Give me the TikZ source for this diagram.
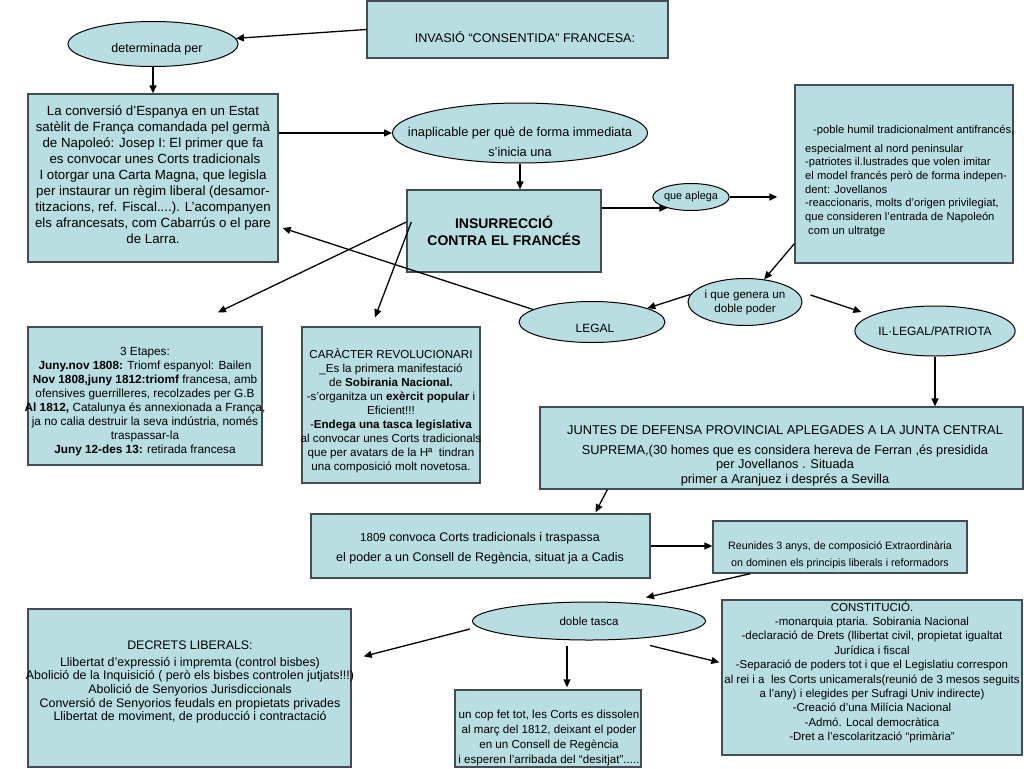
\documentclass[tikz,border=0pt]{standalone}
\usepackage{fontspec}
\setmainfont{Liberation Sans}
\usetikzlibrary{arrows.meta,shapes.geometric,calc}
\definecolor{boxfill}{RGB}{184,222,225}
\definecolor{boxline}{RGB}{66,78,84}
\begin{document}
\begin{tikzpicture}[x=1pt,y=-1pt,
  bx/.style={draw=boxline, line width=1.3pt, fill=boxfill, inner sep=0},
  ell/.style={ellipse, draw=black, line width=1pt, fill=boxfill, inner sep=0},
  txt/.style={align=center, inner sep=0, text=black},
  fs/.style 2 args={font=\fontsize{#1}{#2}\selectfont},
  arr/.style={line width=1.3pt, -{Triangle[length=8pt,width=7pt]}},
  ln/.style={line width=1.3pt}]
\fill[white] (0,0) rectangle (1024,768);
\path[use as bounding box] (0,0) rectangle (1024,768);

% ---------- boxes ----------
\node[bx, minimum width=301, minimum height=57] (inv) at (517.5,29.5) {};
\node[bx, minimum width=250, minimum height=168] (left) at (153,178) {};
\node[bx, minimum width=194, minimum height=82] (insur) at (504,231) {};
\node[bx, minimum width=218, minimum height=178] (rbox) at (904,174) {};
\node[bx, minimum width=234, minimum height=138] (etap) at (145,396) {};
\node[bx, minimum width=178, minimum height=156] (carac) at (391,405) {};
\node[bx, minimum width=483, minimum height=82] (juntes) at (781.5,448) {};
\node[bx, minimum width=339, minimum height=64] (c1809) at (480.5,546) {};
\node[bx, minimum width=254, minimum height=52] (reun) at (840,547) {};
\node[bx, minimum width=323, minimum height=158] (decr) at (189.5,688) {};
\node[bx, minimum width=186, minimum height=77] (uncop) at (548,728.5) {};
\node[bx, minimum width=300, minimum height=155] (const) at (872,677.5) {};

% ---------- ellipses ----------
\node[ell, minimum width=170, minimum height=45] (det) at (153,44) {};
\node[ell, minimum width=255, minimum height=60] (inap) at (520,133) {};
\node[ell, minimum width=68, minimum height=27, fs={10.9}{12}] (qa) at (691,197) {que aplega};
\node[ell, minimum width=114, minimum height=47, fs={11.6}{14}, align=center] (ique) at (745,302) {i que genera un\\doble poder};
\node[ell, minimum width=146, minimum height=41] (legal) at (592,322) {};
\node[ell, minimum width=138, minimum height=50, fs={12}{14}] (ill) at (935,331) {IL·LEGAL/PATRIOTA};
\node[ell, minimum width=233, minimum height=38, fs={11.5}{13}] (doble) at (589,621) {doble tasca};

% ---------- texts ----------
\node[txt, fs={12.6}{15}] (invT) at (525,37) {INVASIÓ “CONSENTIDA” FRANCESA:};
\node[txt, fs={12.5}{15}] (detT) at (157,49) {determinada per};
\node[txt, fs={13.3}{16}] (leftT) at (153,175) {La conversió d’Espanya en un Estat\\ satèlit de França comandada pel germà\\ de Napoleó: Josep I: El primer que fa\\ \ es convocar unes Corts tradicionals\\ I otorgar una Carta Magna, que legisla\\ per instaurar un règim liberal (desamor-\\ titzacions, ref. Fiscal....). L’acompanyen\\ els afrancesats, com Cabarrús o el pare\\ de Larra.};
\node[txt, fs={12.8}{20}] (inapT) at (520,142) {inaplicable per què de forma immediata\\ s’inicia una};
\node[txt, font=\bfseries\fontsize{14}{17}\selectfont] (insurT) at (504,231) {INSURRECCIÓ\\ CONTRA EL FRANCÉS};
\node[txt, align=left, anchor=north west, fs={11.2}{13.7}] (rboxT) at (805,125) {\hspace*{8pt}-poble humil tradicionalment antifrancés,\\[5pt] especialment al nord peninsular\\ -patriotes il.lustrades que volen imitar\\ el model francés però de forma indepen-\\ dent: Jovellanos\\ -reaccionaris, molts d’origen privilegiat,\\ que consideren l’entrada de Napoleón\\ \hspace*{3pt}com un ultratge};
\node[txt, fs={12}{14}] (legalT) at (595,328) {LEGAL};
\node[txt, fs={11.8}{14}] (etapT) at (145,402) {3 Etapes:\\ \textbf{Juny.nov 1808:} Triomf espanyol: Bailen\\ \textbf{Nov 1808,juny 1812:triomf} francesa, amb\\ ofensives guerrilleres, recolzades per G.B\\ \textbf{Al 1812,} Catalunya és annexionada a França,\\ ja no calia destruir la seva indústria, només\\ traspassar-la\\ \textbf{Juny 12-des 13:} retirada francesa};
\node[txt, fs={11.6}{14}] (caracT) at (391,411) {CARÀCTER REVOLUCIONARI\\ \_Es la primera manifestació\\ de \textbf{Sobirania Nacional.}\\ -s’organitza un \textbf{exèrcit popular} i\\ Eficient!!!\\ -\textbf{Endega una tasca legislativa}\\ al convocar unes Corts tradicionals\\ que per avatars de la Hª\ \ tindran\\ una composició molt novetosa.};
\node[txt, fs={12.8}{14.7}] (juntesT) at (785,456) {JUNTES DE DEFENSA PROVINCIAL APLEGADES A LA JUNTA CENTRAL\\[5pt] SUPREMA,(30 homes que es considera hereva de Ferran ,és presidida\\ per Jovellanos . Situada\\ primer a Aranjuez i després a Sevilla};
\node[txt, fs={12.5}{20}] (c1809T) at (480,548) {{\fontsize{11.5}{20}\selectfont 1809} convoca Corts tradicionals i traspassa\\ el poder a un Consell de Regència, situat ja a Cadis};
\node[txt, fs={10.7}{17}] (reunT) at (840,555) {Reunides 3 anys, de composició Extraordinària\\ on dominen els principis liberals i reformadors};
\node[txt, fs={12.4}{13.7}] (decrT) at (190,682) {DECRETS LIBERALS:\\[3pt] Llibertat d’expressió i impremta (control bisbes)\\ Abolició de la Inquisició ( però els bisbes controlen jutjats!!!)\\ Abolició de Senyorios Jurisdiccionals\\ Conversió de Senyorios feudals en propietats privades\\ Llibertat de moviment, de producció i contractació};
\node[txt, fs={11.6}{14.7}] (uncopT) at (549,738) {un cop fet tot, les Corts es dissolen\\ al març del 1812, deixant el poder\\ en un Consell de Regència\\ i esperen l’arribada del “desitjat”.....};
\node[txt, fs={11.5}{14.4}] (constT) at (872,672) {CONSTITUCIÓ.\\ -monarquia ptaria. Sobirania Nacional\\ -declaració de Drets (llibertat civil, propietat igualtat\\ Jurídica i fiscal\\ -Separació de poders tot i que el Legislatiu correspon\\ al rei i a\ \ les Corts unicamerals(reunió de 3 mesos seguits\\ a l’any) i elegides per Sufragi Univ indirecte)\\ -Creació d’una Milícia Nacional\\ -Admó. Local democràtica\\ -Dret a l’escolarització “primària”};

% ---------- connectors ----------
\draw[arr] (inv.west) -- (det);
\draw[arr] (det.south) -- (det.south |- left.north);
\draw[arr] (left.east |- inap.west) -- (inap.west);
\draw[arr] (inap.south) -- (inap.south |- insur.north);
\draw[arr] (insur.east |- qa.205) -- (qa.205);
\draw[arr] (qa.east) -- ($(qa.east -| rbox.west)+(-17,0)$);
\draw[arr] ($(rbox.south west)+(0,-20)$) -- (ique);
\draw[arr] (ique.172) -- (legal.14);
\draw[arr] ($(ique.east)+(8,-7)$) -- ($(ill.west)+(7,-19)$);
\draw[arr] (ill.south) -- (ill.south |- juntes.north);
\draw[arr] ($(juntes.south west)+(68,0)$) -- ($(c1809.north)+(115,-1)$);
\draw[arr] (c1809.east) -- (c1809.east -| reun.west);
\draw[arr] ($(reun.south west)+(38,0)$) -- ($(doble.north)+(57,-4)$);
\draw[arr] ($(doble.west)+(-2,8)$) -- ($(decr.north east)+(12,48)$);
\draw[arr] ($(doble.south)+(-22,5)$) -- ($(uncop.north)+(19,-2)$);
\draw[arr] ($(doble.south)+(61,5)$) -- ($(const.north west)+(-2,63)$);
\draw[arr] (legal.168) -- ($(left.east)+(4,50)$);
\draw[arr] ($(insur.west)+(0,-9)$) -- ($(etap.north)+(73,-14)$);
\draw[arr] ($(insur.west)+(5,-9)$) -- ($(carac.north)+(-16,-9)$);
\end{tikzpicture}
\end{document}
